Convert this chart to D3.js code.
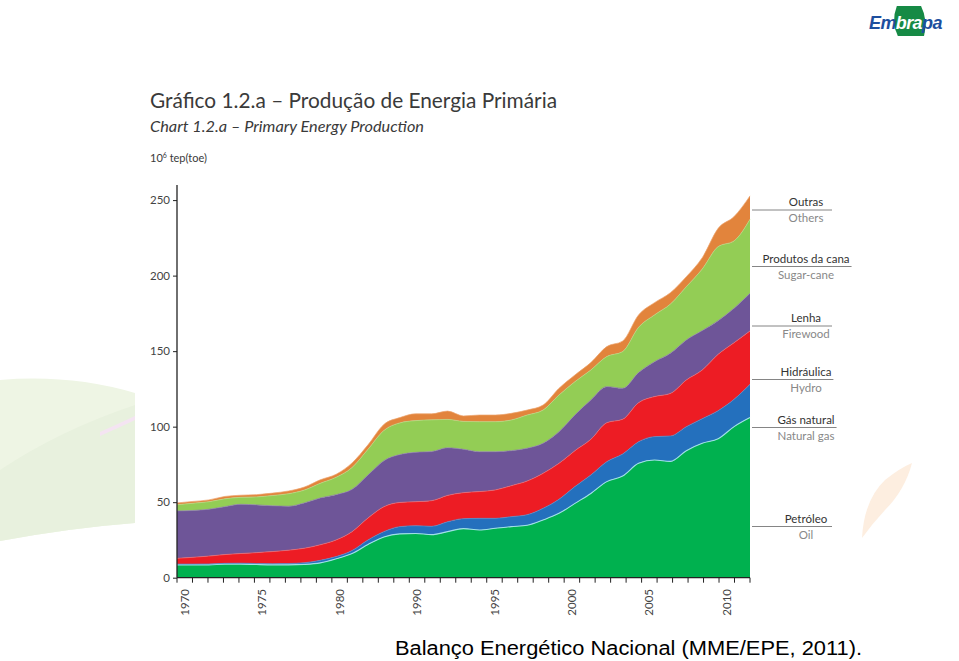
<!DOCTYPE html>
<html><head><meta charset="utf-8">
<script src="https://cdn.jsdelivr.net/npm/d3@7"></script>
<style>html,body{margin:0;padding:0;background:#fff;}svg{display:block}</style>
</head><body>
<svg id="c" width="959" height="661"></svg>
<script>
// ---------- DATA (10^6 tep) ----------
const years = [1970,1971,1972,1973,1974,1975,1976,1977,1978,1979,1980,
  1986,1987,1988,1989,1990,1991,1992,1993,1994,1995,1996,1997,1998,1999,
  2000,2001,2002,2003,2004,2005,2006,2007,2008,2009,2010,2011];
const tickYears = [1970,1975,1980,1990,1995,2000,2005,2010];
const yTicks = [0,50,100,150,200,250];
const oil      = [8.5,8.5,8.5,9.0,9.0,8.7,8.5,8.5,8.8,9.8,12.5,16.0,22.0,27.0,29.0,29.3,28.5,30.5,32.5,31.6,32.7,33.8,34.7,38.2,42.6,49.2,55.8,63.6,67.3,75.7,77.9,77.0,84.1,89.0,92.0,100.0,106.0];
const gas      = [0.5,0.5,0.6,0.5,0.6,0.7,0.8,0.9,1.1,1.7,1.5,2.0,3.0,3.5,4.8,5.1,5.5,6.5,6.6,7.7,6.6,6.6,7.0,7.7,9.3,11.1,12.2,13.2,14.6,14.3,15.5,16.8,15.9,16.3,18.6,18.1,22.0];
const hydro    = [3.8,4.5,5.2,5.8,6.4,7.2,8.0,8.8,9.6,10.3,11.0,12.5,14.5,16.5,16.0,15.9,17.0,17.5,17.2,17.7,18.8,20.5,22.3,23.2,23.8,23.8,23.6,25.8,23.0,25.9,26.5,28.2,30.9,32.2,37.3,37.5,35.4];
const firewood = [31.4,31.0,31.0,31.7,32.6,31.6,30.3,29.1,30.0,31.0,30.0,28.0,28.5,30.5,31.7,32.7,32.5,31.5,28.7,26.4,25.3,23.2,21.7,19.9,21.0,23.6,26.1,23.9,20.5,19.9,23.1,26.6,26.5,26.1,22.3,22.8,24.9];
const cane     = [4.1,4.8,5.0,5.2,4.6,5.3,6.8,8.3,8.5,9.7,11.5,14.5,17.0,20.0,21.0,21.0,21.0,18.8,18.5,19.9,19.9,20.3,22.0,22.0,24.3,22.1,19.8,19.9,24.3,30.0,31.0,32.6,35.3,40.8,49.0,44.6,49.0];
const others   = [1.2,1.2,1.2,1.6,1.4,1.5,1.6,1.8,2.0,2.3,2.0,3.0,3.0,4.0,3.5,4.5,4.0,5.5,3.6,4.4,4.4,4.4,3.3,3.3,4.4,4.4,4.9,6.6,7.0,8.2,8.1,7.5,6.6,7.5,12.1,16.1,15.5];
const seriesKeys = ["oil","gas","hydro","firewood","cane","others"];
const labelsPt = ["Petróleo","Gás natural","Hidráulica","Lenha","Produtos da cana","Outras"];
const labelsEn = ["Oil","Natural gas","Hydro","Firewood","Sugar-cane","Others"];

// ---------- build table ----------
const table = years.map((y,i)=>({year:y, oil:oil[i], gas:gas[i], hydro:hydro[i], firewood:firewood[i], cane:cane[i], others:others[i]}));
const colors = {oil:"#00b14f", gas:"#2470bd", hydro:"#ed1c24", firewood:"#6e5598", cane:"#93cd55", others:"#e2843c"};
const edge = {oil:"#9fe0e6", gas:"#4d8fd0", hydro:"#f2686c", firewood:"#8a74ad", cane:"#b3dc85", others:"#eca36d"};

const svg = d3.select("#c");
const FONT = "Lato, 'Open Sans', 'Noto Sans', sans-serif";

// ---------- decorative background ----------
svg.append("path").attr("d","M0,380 Q70,374 135,393 L135,523 Q70,528 0,541 Z").attr("fill","#eef5e4");
svg.append("path").attr("d","M0,470 Q60,430 135,405 L135,523 Q70,528 0,541 Z").attr("fill","#e8f1de");
svg.append("path").attr("d","M100,432 Q118,424 135,416 L135,420 Q118,428 100,436 Z").attr("fill","#f4e4f2");
svg.append("path").attr("d","M862,538 Q864,500 885,480 Q900,468 912,463 Q905,490 885,510 Q872,524 862,538 Z").attr("fill","#fdeee0");

// ---------- logo ----------
const logoG = svg.append("g");
const leaf = logoG.append("path").attr("fill","#168a45");
const logo = logoG.append("text").attr("x",869).attr("y",29).attr("font-family","'Liberation Sans', Arial, sans-serif")
  .attr("font-size",18).attr("font-weight","bold").attr("font-style","italic").attr("letter-spacing",-0.6);
logo.append("tspan").attr("fill","#1d4f9e").text("Em");
logo.append("tspan").attr("fill","#ffffff").text("bra");
logo.append("tspan").attr("fill","#1d4f9e").text("pa");
{
  const n = logo.node();
  const a = 869 + n.getSubStringLength(0,2) - 1;
  const b = 869 + n.getSubStringLength(0,5) + 1;
  leaf.attr("d",`M${a+2},6 L${b-2},6 Q${b+5},20 ${b+1},36 L${a+3},36 Q${a-4},22 ${a+2},6 Z`);
}

// ---------- titles ----------
svg.append("text").attr("x",150).attr("y",108).attr("font-family",FONT).attr("font-size",21).attr("fill","#3a3a3a")
  .attr("textLength",407).attr("lengthAdjust","spacingAndGlyphs").text("Gráfico 1.2.a – Produção de Energia Primária");
svg.append("text").attr("x",150).attr("y",132).attr("font-family",FONT).attr("font-size",15).attr("font-style","italic").attr("fill","#3a3a3a")
  .attr("textLength",274).attr("lengthAdjust","spacingAndGlyphs").text("Chart 1.2.a – Primary Energy Production");
const unit = svg.append("text").attr("x",150).attr("y",162).attr("font-family",FONT).attr("font-size",11).attr("fill","#3a3a3a");
unit.append("tspan").text("10");
unit.append("tspan").attr("font-size",7).attr("dy",-4).text("6");
unit.append("tspan").attr("dy",4).text(" tep(toe)");

// ---------- scales ----------
const x0 = 177, x1 = 750;
const xBand = d3.scaleBand().domain(years).range([x0,x1]).padding(0);
const xPt = d3.scalePoint().domain(years).range([x0,x1]);
const y = d3.scaleLinear().domain([0,260]).range([577.7,185]);

// ---------- stacked areas ----------
const stack = d3.stack().keys(seriesKeys);
const layers = stack(table);
const area = d3.area().x(d=>xPt(d.data.year)).y0(d=>y(d[0])).y1(d=>y(d[1])).curve(d3.curveMonotoneX);
const topLine = d3.line().x(d=>xPt(d.data.year)).y(d=>y(d[1])).curve(d3.curveMonotoneX);
const g = svg.append("g");
g.selectAll("path.area").data(layers).join("path").attr("class","area")
  .attr("d",area).attr("fill",d=>colors[d.key]);
g.selectAll("path.edge").data(layers).join("path").attr("class","edge")
  .attr("d",topLine).attr("fill","none").attr("stroke",d=>edge[d.key]).attr("stroke-width",d=>d.key==="oil"?1.1:0.7);

// ---------- axes ----------
const yAxis = svg.append("g").attr("transform",`translate(${x0},0)`)
  .call(d3.axisLeft(y).tickValues(yTicks).tickSize(4).tickPadding(3));
yAxis.select(".domain").attr("stroke","#222").attr("stroke-width",1.3).attr("d",`M-0,${y(260)}V${y(0)}`);
yAxis.selectAll(".tick line").attr("stroke","#222");
yAxis.selectAll(".tick text").attr("font-family",FONT).attr("font-size",11.5).attr("fill","#444");

const xAxisG = svg.append("g");
xAxisG.append("line").attr("x1",x0).attr("x2",x1).attr("y1",y(0)).attr("y2",y(0)).attr("stroke","#222").attr("stroke-width",1.3);
const tickPos = years.map(d=>xBand(d)).concat([x1]);
xAxisG.selectAll("line.tk").data(tickPos).join("line").attr("class","tk")
  .attr("x1",d=>d).attr("x2",d=>d).attr("y1",y(0)).attr("y2",y(0)+5).attr("stroke","#222").attr("stroke-width",1);
xAxisG.selectAll("text.tl").data(tickYears).join("text").attr("class","tl")
  .attr("transform",d=>`translate(${xBand(d)+xBand.bandwidth()/2},589) rotate(-90)`)
  .attr("text-anchor","end").attr("dy","0.35em").attr("font-family",FONT).attr("font-size",11.5).attr("fill","#444")
  .text(d=>d);

// ---------- right-side labels ----------
const lineY = [526.5, 427.5, 379.5, 326, 266.5, 210];
const lab = svg.append("g").attr("font-family",FONT).attr("font-size",11.5);
seriesKeys.forEach((k,i)=>{
  const ly = lineY[i];
  const t1 = lab.append("text").attr("x",806).attr("y",ly-4).attr("text-anchor","middle").attr("fill","#333").text(labelsPt[i]);
  const t2 = lab.append("text").attr("x",806).attr("y",ly+12).attr("text-anchor","middle").attr("fill","#888").text(labelsEn[i]);
  const w = Math.max(t1.node().getComputedTextLength(), t2.node().getComputedTextLength());
  const xe = Math.max(832, 806 + w/2 + 2);
  lab.append("line").attr("x1",752).attr("x2",xe).attr("y1",ly).attr("y2",ly).attr("stroke","#666").attr("stroke-width",0.8);
});

// ---------- caption ----------
svg.append("text").attr("x",395).attr("y",655).attr("font-family","'Liberation Sans', Arial, sans-serif").attr("font-size",20).attr("fill","#000")
  .attr("textLength",467).attr("lengthAdjust","spacingAndGlyphs").text("Balanço Energético Nacional (MME/EPE, 2011).");
</script>
</body></html>
